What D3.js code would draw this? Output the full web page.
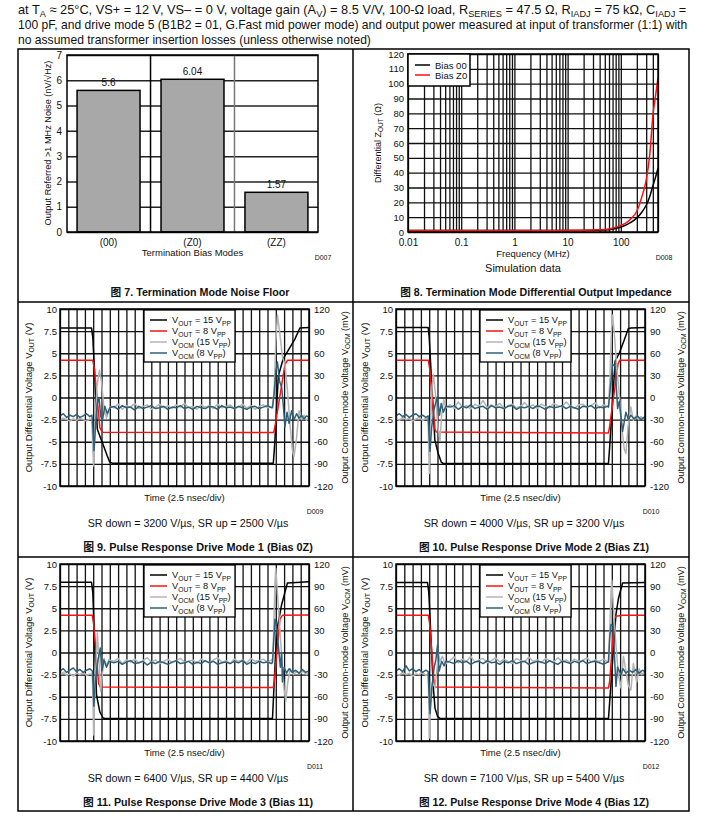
<!DOCTYPE html>
<html>
<head>
<meta charset="utf-8">
<script src="https://cdn.jsdelivr.net/npm/d3@7"></script>
<style>
body { margin: 0; background: #fff; }
text { font-family: "Liberation Sans", Arial, "Noto Sans CJK SC", sans-serif; fill: #111; }
</style>
</head>
<body>
<script>
// ---------- data ----------
var headerLine1 = ["at T", {sub: "A"}, " ≈ 25°C, VS+ = 12 V, VS– = 0 V, voltage gain (A", {sub: "V"}, ") = 8.5 V/V, 100-Ω load, R", {sub: "SERIES"}, " = 47.5 Ω, R", {sub: "IADJ"}, " = 75 kΩ, C", {sub: "IADJ"}, " ="];
var headerLine2 = ["100 pF, and drive mode 5 (B1B2 = 01, G.Fast mid power mode) and output power measured at input of transformer (1:1) with"];
var headerLine3 = ["no assumed transformer insertion losses (unless otherwise noted)"];

// fig 7
var noiseModes = ["(00)", "(Z0)", "(ZZ)"];
var noiseValues = [5.6, 6.04, 1.57];
var noiseTicks = [0, 1, 2, 3, 4, 5, 6, 7];

// fig 8
var zFreq   = [0.01, 1, 10, 30, 50, 70, 100, 130, 160, 200, 250, 300, 350, 400, 450, 500];
var zBias00 = [1, 1, 1.05, 1.2, 1.4, 1.9, 3.4, 5, 6.8, 9.5, 13.5, 18, 24, 31, 37, 43];
var zBiasZ0 = [1, 1, 1.1, 1.4, 1.7, 2.6, 4.5, 6.5, 9.5, 14, 24, 35, 52, 78, 92, 104];
var zTicksY = [0, 10, 20, 30, 40, 50, 60, 70, 80, 90, 100, 110, 120];
var zTicksX = [0.01, 0.1, 1, 10, 100];
var zDecades = [0.01, 0.1, 1, 10, 100];
var zMults = [1, 2, 3, 4, 5, 6, 7, 8, 9];

// pulse plots: time in divisions (2.5 ns/div), VOUT in V, VOCM in mV
var voltTicks = [-10, -7.5, -5, -2.5, 0, 2.5, 5, 7.5, 10];
var mvTicks = [-120, -90, -60, -30, 0, 30, 60, 90, 120];
var midTimes = [6.5,7,7.5,8,8.5,9,9.5,10,10.5,11,11.5,12,12.5,13,13.5,14,14.5,15,15.5,16,16.5,17,17.5,18,18.5,19,19.5,20,20.5,21,21.5,22,22.5,23,23.5,24,24.5,25,25.5];

// fig 9 (Bias 0Z)
var p9Out15 = [[0,7.85],[3.8,7.85],[3.95,6.8],[4.5,-3.6],[4.9,-4.6],[5.3,-5.6],[5.7,-6.6],[6.0,-7.3],[6.3,-7.42],[25.7,-7.42],[25.85,-5.5],[26.3,2.4],[26.9,4.4],[27.6,5.5],[28.3,6.6],[28.9,7.85],[30,7.9]];
var p9Out8 = [[0,4.2],[3.95,4.2],[4.15,3.2],[4.8,-3.4],[5.1,-3.92],[25.75,-3.95],[25.95,-3.0],[27.1,3.7],[27.4,4.2],[30,4.22]];
var p9GrayFall = [[0,-31],[0.4,-28],[0.8,-30],[1.2,-32],[1.6,-29],[2.0,-31],[2.4,-28],[2.8,-30],[3.2,-32],[3.6,-29],[3.85,-30],[3.95,-70],[4.05,-93],[4.2,-45],[4.45,15],[4.75,37],[5.0,22],[5.3,-15],[5.6,-28],[5.9,-16],[6.2,-12]];
var p9GrayMid = [-14,-9,-16,-11,-13,-8,-15,-12,-10,-16,-13,-9,-14,-11,-15,-10,-13,-8,-14,-12,-16,-10,-13,-11,-15,-9,-14,-12,-10,-15,-13,-9,-14,-11,-16,-12,-10,-14,-12];
var p9GrayRise = [[25.6,-12],[25.8,10],[26.0,75],[26.2,112],[26.5,85],[26.8,55],[27.1,45],[27.4,10],[27.7,-35],[28.0,-72],[28.2,-80],[28.5,-55],[28.8,-18],[29.1,-30],[29.4,-24],[29.7,-31],[30,-27]];
var p9BlueFall = [[0,-25],[0.4,-22],[0.8,-27],[1.2,-24],[1.6,-26],[2.0,-23],[2.4,-27],[2.8,-25],[3.2,-22],[3.6,-26],[3.85,-24],[3.95,-40],[4.1,-72],[4.3,-35],[4.5,-8],[4.7,0],[4.9,-25],[5.1,-32],[5.4,-12],[5.7,-22],[6.0,-14]];
var p9BlueMid = [-12,-16,-11,-14,-13,-17,-12,-15,-13,-11,-15,-14,-12,-16,-13,-14,-11,-15,-13,-16,-12,-14,-15,-12,-13,-16,-11,-14,-13,-15,-12,-14,-16,-13,-12,-15,-13,-11,-14];
var p9BlueRise = [[25.6,-14],[25.8,5],[26.0,35],[26.2,48],[26.45,22],[26.7,14],[26.9,-10],[27.1,-40],[27.35,-20],[27.6,-35],[27.9,-18],[28.2,-30],[28.5,-22],[28.8,-28],[29.1,-24],[29.4,-29],[29.7,-25],[30,-27]];

// fig 10 (Bias Z1)
var p10Out15 = [[0,7.9],[3.88,7.9],[4.0,6.8],[4.68,-4.8],[5.08,-6.3],[5.45,-7.3],[5.65,-7.45],[25.6,-7.45],[25.75,-5.5],[26.4,4.1],[26.9,5.0],[27.5,6.5],[28.0,7.8],[28.3,7.85],[30,7.9]];
var p10Out8 = [[0,4.2],[3.9,4.2],[4.05,3.3],[4.7,-3.6],[4.85,-3.9],[25.6,-4.0],[25.75,-3.2],[26.75,3.8],[26.95,4.2],[30,4.22]];
var p10GrayFall = [[0,-28],[0.4,-31],[0.8,-27],[1.2,-30],[1.6,-28],[2.0,-32],[2.4,-29],[2.8,-27],[3.2,-31],[3.6,-28],[3.88,-30],[3.95,-75],[4.02,-103],[4.15,-40],[4.35,15],[4.5,31],[4.75,5],[5.05,-40],[5.3,-58],[5.5,-25],[5.75,-3],[6.0,-14]];
var p10GrayMid = [-10,-15,-6,-13,-11,-16,-9,-12,-4,-14,-10,-13,-8,-15,-11,-9,-14,-12,-7,-13,-10,-15,-9,-12,-14,-8,-11,-13,-6,-12,-15,-10,-9,-13,-11,-7,-14,-10,-12];
var p10GrayRise = [[25.6,-12],[25.75,20],[25.95,90],[26.1,112],[26.35,80],[26.6,40],[26.9,5],[27.2,-40],[27.5,-70],[27.7,-76],[27.95,-40],[28.3,-13],[28.6,-31],[28.9,-25],[29.2,-30],[29.5,-26],[29.8,-29],[30,-27]];
var p10BlueFall = [[0,-25],[0.4,-22],[0.8,-26],[1.2,-23],[1.6,-27],[2.0,-24],[2.4,-22],[2.8,-26],[3.2,-24],[3.6,-27],[3.88,-25],[3.98,-50],[4.1,-73],[4.3,-40],[4.6,-15],[5.0,1],[5.25,-24],[5.45,-8],[5.7,-20],[6.0,-12]];
var p10BlueMid = [-13,-11,-16,-12,-14,-10,-15,-13,-12,-16,-11,-14,-13,-15,-12,-11,-16,-13,-14,-12,-15,-11,-13,-16,-12,-14,-13,-11,-15,-12,-14,-16,-12,-13,-11,-15,-13,-14,-12];
var p10BlueRise = [[25.6,-13],[25.8,10],[26.1,45],[26.4,42],[26.7,-15],[26.9,-5],[27.3,-46],[27.7,-20],[28.0,-30],[28.3,-24],[28.7,-29],[29.1,-25],[29.5,-30],[30,-26]];

// fig 11 (Bias 11)
var p11Out15 = [[0,7.95],[3.8,7.95],[3.95,6.8],[4.4,-4.8],[4.8,-6.7],[5.2,-7.4],[5.4,-7.45],[25.6,-7.45],[25.7,-5.5],[26.1,2.4],[26.7,5.4],[27.4,7.85],[30,8.0]];
var p11Out8 = [[0,4.2],[3.9,4.2],[4.05,3.2],[4.65,-3.5],[4.85,-3.9],[25.7,-3.95],[25.85,-3.0],[26.5,3.8],[26.8,4.2],[30,4.25]];
var p11GrayFall = [[0,-30],[0.4,-27],[0.8,-31],[1.2,-29],[1.6,-32],[2.0,-28],[2.4,-30],[2.8,-27],[3.2,-31],[3.6,-29],[3.9,-30],[4.0,-80],[4.05,-112],[4.2,-50],[4.5,26],[4.7,-10],[4.9,-53],[5.1,-30],[5.3,-8],[5.6,-18],[5.9,-10]];
var p11GrayMid = [-12,-8,-15,-10,-13,-9,-14,-11,-7,-13,-10,-15,-12,-9,-14,-11,-8,-13,-12,-10,-15,-9,-12,-14,-10,-7,-13,-11,-15,-9,-12,-10,-14,-8,-12,-11,-9,-13,-10];
var p11GrayRise = [[25.6,-11],[25.75,30],[25.9,95],[26.0,114],[26.2,80],[26.5,30],[26.8,-20],[27.0,-50],[27.2,-66],[27.45,-40],[27.75,-22],[28.1,-30],[28.5,-26],[28.9,-29],[29.3,-25],[29.7,-30],[30,-27]];
var p11BlueFall = [[0,-25],[0.4,-22],[0.8,-27],[1.2,-24],[1.6,-21],[2.0,-26],[2.4,-23],[2.8,-27],[3.2,-24],[3.6,-22],[3.9,-25],[4.0,-45],[4.08,-73],[4.25,-40],[4.5,-15],[4.85,6],[5.05,-25],[5.3,-10],[5.6,-20],[5.9,-12]];
var p11BlueMid = [-14,-12,-16,-13,-11,-15,-14,-12,-17,-13,-15,-12,-14,-16,-13,-11,-15,-14,-12,-16,-13,-15,-11,-14,-12,-16,-14,-13,-15,-12,-14,-11,-16,-13,-15,-12,-14,-13,-15];
var p11BlueRise = [[25.6,-13],[25.75,15],[25.9,45],[26.05,40],[26.3,10],[26.55,-20],[26.7,0],[26.8,-40],[27.0,-20],[27.3,-28],[27.6,-22],[28.0,-27],[28.4,-24],[28.8,-28],[29.2,-23],[29.6,-27],[30,-25]];

// fig 12 (Bias 1Z)
var p12Out15 = [[0,7.9],[3.8,7.9],[3.95,6.8],[4.5,-4.0],[4.7,-6.3],[5.0,-7.2],[5.3,-7.45],[25.6,-7.45],[25.75,-5.5],[26.5,4.3],[26.8,6.1],[27.3,7.85],[30,7.9]];
var p12Out8 = [[0,4.2],[3.9,4.2],[4.05,3.3],[4.6,-3.6],[4.75,-3.9],[25.6,-4.0],[25.75,-3.2],[26.3,3.8],[26.5,4.1],[27.3,4.2],[30,4.22]];
var p12GrayFall = [[0,-29],[0.4,-31],[0.8,-27],[1.2,-30],[1.6,-28],[2.0,-32],[2.4,-29],[2.8,-30],[3.2,-27],[3.6,-31],[3.88,-29],[3.97,-80],[4.0,-116],[4.15,-75],[4.4,-40],[4.7,-48],[4.95,-20],[5.1,0],[5.3,-12],[5.6,-5],[5.9,-16]];
var p12GrayMid = [-11,-6,-14,-9,-12,-5,-13,-10,-8,-14,-11,-7,-13,-9,-12,-15,-8,-11,-13,-6,-12,-10,-14,-8,-11,-13,-7,-12,-10,-14,-9,-12,-11,-7,-13,-10,-12,-9,-13];
var p12GrayRise = [[25.6,-12],[25.75,30],[25.9,80],[26.0,98],[26.2,60],[26.5,10],[26.8,-30],[27.1,-48],[27.4,-5],[27.7,-25],[28.0,-45],[28.3,-51],[28.6,-15],[29.0,-40],[29.3,-22],[29.6,-30],[30,-26]];
var p12BlueFall = [[0,-25],[0.4,-22],[0.8,-26],[1.2,-18],[1.6,-25],[2.0,-22],[2.4,-26],[2.8,-23],[3.2,-27],[3.6,-24],[3.88,-26],[3.98,-55],[4.1,-83],[4.3,-50],[4.6,-20],[4.8,-10],[5.0,10],[5.2,-25],[5.5,-12],[5.8,-18],[6.0,-12]];
var p12BlueMid = [-13,-15,-11,-14,-12,-16,-13,-12,-15,-11,-14,-13,-16,-12,-14,-11,-15,-13,-12,-16,-14,-12,-13,-15,-11,-14,-16,-12,-13,-15,-12,-14,-11,-15,-13,-12,-14,-16,-13];
var p12BlueRise = [[25.6,-13],[25.75,20],[25.9,38],[26.15,36],[26.5,-46],[26.7,-20],[27.1,-30],[27.35,-22],[27.7,-28],[28.1,-24],[28.5,-27],[28.9,-23],[29.3,-28],[29.7,-24],[30,-26]];

var pulseLegend = [
  ["V", {sub: "OUT"}, " = 15 V", {sub: "PP"}],
  ["V", {sub: "OUT"}, " = 8 V", {sub: "PP"}],
  ["V", {sub: "OCM"}, " (15 V", {sub: "PP"}, ")"],
  ["V", {sub: "OCM"}, " (8 V", {sub: "PP"}, ")"]
];
var pulseColors = ["#000000", "#ff1010", "#b4b4b4", "#2f6078"];

// ---------- helpers ----------
var svg = d3.select("body").append("svg").attr("width", 725).attr("height", 826);

function rich(t, parts) {
  var shifted = false;
  parts.forEach(function (p) {
    var isSub = typeof p !== "string";
    var ts = t.append("tspan").text(isSub ? p.sub : p);
    if (isSub) {
      ts.attr("font-size", "0.72em");
      if (!shifted) ts.attr("dy", "0.35em");
      shifted = true;
    } else if (shifted) {
      ts.attr("dy", "-0.25em");
      shifted = false;
    }
  });
  return t;
}

function txt(parent, x, y, parts, size, anchor) {
  var t = parent.append("text").attr("x", x).attr("y", y)
    .attr("font-size", size).attr("text-anchor", anchor || "start");
  return rich(t, typeof parts === "string" ? [parts] : parts);
}

function fit(t, width) {
  var w = t.node().getComputedTextLength();
  t.attr("font-size", parseFloat(t.attr("font-size")) * width / w);
  return t;
}

function vtxt(parent, x, y, parts, size, width) {
  var t = txt(parent, x, y, parts, size, "middle").attr("transform", "rotate(-90," + x + "," + y + ")");
  if (width) fit(t, width);
  return t;
}

function styleAxis(g, size) {
  g.select(".domain").remove();
  g.attr("font-size", size);
  g.selectAll("text").attr("fill", "#111");
}

function plain(d) { return String(d); }

function joinTrace(fall, mid, rise) {
  var pts = fall.slice();
  midTimes.forEach(function (t, i) { if (i < mid.length) pts.push([t, mid[i]]); });
  return pts.concat(rise);
}

// ---------- header + table ----------
fit(txt(svg, 18, 14, headerLine1, 12), 669);
var l2 = fit(txt(svg, 18, 29, headerLine2, 12), 670);
txt(svg, 18, 44, headerLine3, parseFloat(l2.attr("font-size")));

var table = svg.append("g").attr("stroke", "#000").attr("stroke-width", 1.5).attr("fill", "none");
table.append("rect").attr("x", 18).attr("y", 49).attr("width", 671).attr("height", 762);
table.append("line").attr("x1", 353).attr("x2", 353).attr("y1", 49).attr("y2", 811);
table.append("line").attr("x1", 18).attr("x2", 689).attr("y1", 302).attr("y2", 302);
table.append("line").attr("x1", 18).attr("x2", 689).attr("y1", 557).attr("y2", 557);

// ---------- fig 7: noise floor bars ----------
(function () {
  var L = 67, T = 55, w = 251, h = 177;
  var g = svg.append("g").attr("transform", "translate(" + L + "," + T + ")");
  var x = d3.scaleBand().domain(noiseModes).range([0, w]).paddingInner(0.25).paddingOuter(0.12);
  var y = d3.scaleLinear().domain([0, 7]).range([h, 0]);

  g.append("g").call(d3.axisLeft(y).tickValues(noiseTicks).tickSize(-w).tickFormat(""))
    .call(function (a) { a.select(".domain").remove(); })
    .selectAll("line").attr("stroke", "#222").attr("stroke-width", 1.5);

  var gridCols = ["#000", "#777"];
  noiseModes.slice(1).forEach(function (m, i) {
    var gx = x(m) - x.step() * x.paddingInner() / 2;
    g.append("line").attr("x1", gx).attr("x2", gx).attr("y1", 0).attr("y2", h)
      .attr("stroke", gridCols[i]).attr("stroke-width", 1.5);
  });

  g.selectAll(".bar").data(noiseValues).enter().append("rect")
    .attr("x", function (d, i) { return x(noiseModes[i]); })
    .attr("y", function (d) { return y(d); })
    .attr("width", x.bandwidth())
    .attr("height", function (d) { return h - y(d); })
    .attr("fill", "#a8a8a8").attr("stroke", "#000").attr("stroke-width", 1.5);

  g.selectAll(".val").data(noiseValues).enter().append("text")
    .attr("x", function (d, i) { return x(noiseModes[i]) + x.bandwidth() / 2; })
    .attr("y", function (d) { return y(d) - 4; })
    .attr("text-anchor", "middle").attr("font-size", 10)
    .text(function (d) { return d; });

  g.append("rect").attr("width", w).attr("height", h).attr("fill", "none")
    .attr("stroke", "#000").attr("stroke-width", 1.5);

  g.append("g").call(d3.axisLeft(y).tickValues(noiseTicks).tickSize(0).tickPadding(5).tickFormat(plain))
    .call(styleAxis, 10);
  g.append("g").attr("transform", "translate(0," + h + ")")
    .call(d3.axisBottom(x).tickSize(0).tickPadding(7)).call(styleAxis, 10);

  txt(svg, L + w / 2, 256, "Termination Bias Modes", 9.5, "middle");
  vtxt(svg, 50.5, 143, "Output Referred >1 MHz Noise (nV/√Hz)", 9.5, 165);
  txt(svg, L + w + 5, 260, "D007", 7, "middle").attr("fill", "#bdbdbd");
  fit(txt(svg, 200, 296, "图 7. Termination Mode Noise Floor", 11, "middle").attr("font-weight", "bold"), 179);
})();

// ---------- fig 8: output impedance ----------
(function () {
  var L = 408, T = 54, w = 250, h = 178;
  var g = svg.append("g").attr("transform", "translate(" + L + "," + T + ")");
  var x = d3.scaleLog().domain([0.01, 500]).range([0, w]);
  var y = d3.scaleLinear().domain([0, 120]).range([h, 0]);

  var gridX = [];
  zDecades.forEach(function (dec) { zMults.forEach(function (m) { if (dec * m <= 500) gridX.push(dec * m); }); });

  g.append("g").attr("transform", "translate(0," + h + ")")
    .call(d3.axisBottom(x).tickValues(gridX).tickSize(-h).tickFormat(""))
    .call(function (a) { a.select(".domain").remove(); })
    .selectAll("line").attr("stroke", "#111").attr("stroke-width", 1.3);
  g.append("g").call(d3.axisLeft(y).tickValues(zTicksY).tickSize(-w).tickFormat(""))
    .call(function (a) { a.select(".domain").remove(); })
    .selectAll("line").attr("stroke", "#111").attr("stroke-width", 1.3);

  var line = d3.line().x(function (d) { return x(d[0]); }).y(function (d) { return y(d[1]); }).curve(d3.curveMonotoneX);
  g.append("path").datum(d3.zip(zFreq, zBias00)).attr("d", line)
    .attr("fill", "none").attr("stroke", "#000").attr("stroke-width", 1.5);
  g.append("path").datum(d3.zip(zFreq, zBiasZ0)).attr("d", line)
    .attr("fill", "none").attr("stroke", "#ff1010").attr("stroke-width", 1.5);

  g.append("rect").attr("width", w).attr("height", h).attr("fill", "none")
    .attr("stroke", "#000").attr("stroke-width", 1.5);

  g.append("g").call(d3.axisLeft(y).tickValues(zTicksY).tickSize(0).tickPadding(4).tickFormat(plain)).call(styleAxis, 9.5);
  g.append("g").attr("transform", "translate(0," + h + ")")
    .call(d3.axisBottom(x).tickValues(zTicksX).tickSize(0).tickPadding(7).tickFormat(plain))
    .call(styleAxis, 10);

  // legend
  var lg = g.append("g");
  lg.append("rect").attr("width", 62).attr("height", 32).attr("fill", "#fff")
    .attr("stroke", "#000").attr("stroke-width", 1.5);
  ["Bias 00", "Bias Z0"].forEach(function (s, i) {
    lg.append("line").attr("x1", 7).attr("x2", 22).attr("y1", 11 + 10 * i).attr("y2", 11 + 10 * i)
      .attr("stroke", i ? "#ff1010" : "#000").attr("stroke-width", 1.5);
    txt(lg, 27, 14.5 + 10 * i, s, 9.5);
  });

  txt(svg, L + w / 2, 257, "Frequency (MHz)", 9.5, "middle");
  txt(svg, 523, 272, "Simulation data", 11, "middle");
  vtxt(svg, 380.5, 143, ["Differential Z", {sub: "OUT"}, " (Ω)"], 9.5, 80);
  txt(svg, L + w + 6, 260, "D008", 7, "middle").attr("fill", "#bdbdbd");
  fit(txt(svg, 536, 296, "图 8. Termination Mode Differential Output Impedance", 11, "middle").attr("font-weight", "bold"), 272);
})();

// ---------- figs 9-12: pulse response ----------
function pulsePanel(L, T, traces, code, sr, title) {
  var w = 249, h = 177;
  var g = svg.append("g").attr("transform", "translate(" + L + "," + T + ")");
  var x = d3.scaleLinear().domain([0, 30]).range([0, w]);
  var y = d3.scaleLinear().domain([-10, 10]).range([h, 0]);
  var y2 = d3.scaleLinear().domain([-120, 120]).range([h, 0]);

  g.append("g").attr("transform", "translate(0," + h + ")")
    .call(d3.axisBottom(x).ticks(30).tickSize(-h).tickFormat(""))
    .call(function (a) { a.select(".domain").remove(); })
    .selectAll("line").attr("stroke", "#111").attr("stroke-width", 1.3);
  g.append("g").call(d3.axisLeft(y).tickValues(voltTicks).tickSize(-w).tickFormat(""))
    .call(function (a) { a.select(".domain").remove(); })
    .selectAll("line").attr("stroke", "#111").attr("stroke-width", 1.3);

  var lineV = d3.line().x(function (d) { return x(d[0]); }).y(function (d) { return y(d[1]); });
  var lineM = d3.line().x(function (d) { return x(d[0]); }).y(function (d) { return y2(d[1]); });
  traces.forEach(function (tr, i) {
    g.append("path").datum(tr).attr("d", i < 2 ? lineV : lineM)
      .attr("fill", "none").attr("stroke", pulseColors[i]).attr("stroke-width", 1.5)
      .attr("stroke-linejoin", "round");
  });

  g.append("rect").attr("width", w).attr("height", h).attr("fill", "none")
    .attr("stroke", "#000").attr("stroke-width", 1.5);

  g.append("g").call(d3.axisLeft(y).tickValues(voltTicks).tickSize(0).tickPadding(3).tickFormat(plain)).call(styleAxis, 9.5);
  g.append("g").attr("transform", "translate(" + w + ",0)")
    .call(d3.axisRight(y2).tickValues(mvTicks).tickSize(0).tickPadding(5).tickFormat(plain)).call(styleAxis, 9.5);

  // legend
  var lg = g.append("g").attr("transform", "translate(84,1)");
  lg.append("rect").attr("width", 91).attr("height", 52).attr("fill", "#fff")
    .attr("stroke", "#000").attr("stroke-width", 1.3);
  var legSize = 10;
  pulseLegend.forEach(function (parts, i) {
    var ly = 10 + 11 * i;
    lg.append("line").attr("x1", 6).attr("x2", 23).attr("y1", ly).attr("y2", ly)
      .attr("stroke", pulseColors[i]).attr("stroke-width", 1.5);
    var t = txt(lg, 28, ly + 3.2, parts, legSize);
    if (i === 0) { fit(t, 59); legSize = parseFloat(t.attr("font-size")); }
  });

  vtxt(svg, L - 28.5, T + h / 2, ["Output Differential Voltage V", {sub: "OUT"}, " (V)"], 9.5, 150);
  vtxt(svg, L + w + 38.5, T + h / 2, ["Output Common-mode Voltage V", {sub: "OCM"}, " (mV)"], 9.5, 173);
  txt(svg, L + w / 2, T + h + 15, "Time (2.5 nsec/div)", 9.5, "middle");
  txt(svg, L + w + 6, T + h + 28, code, 7, "middle").attr("fill", "#bdbdbd");
  fit(txt(svg, L + 128, T + h + 41, sr, 11, "middle"), 201);
  fit(txt(svg, L + 138, T + h + 65, title, 11, "middle").attr("font-weight", "bold"), 230);
}

pulsePanel(60, 309, [p9Out15, p9Out8, joinTrace(p9GrayFall, p9GrayMid, p9GrayRise), joinTrace(p9BlueFall, p9BlueMid, p9BlueRise)],
  "D009", "SR down = 3200 V/µs, SR up = 2500 V/µs", "图 9. Pulse Response Drive Mode 1 (Bias 0Z)");
pulsePanel(396, 309, [p10Out15, p10Out8, joinTrace(p10GrayFall, p10GrayMid, p10GrayRise), joinTrace(p10BlueFall, p10BlueMid, p10BlueRise)],
  "D010", "SR down = 4000 V/µs, SR up = 3200 V/µs", "图 10. Pulse Response Drive Mode 2 (Bias Z1)");
pulsePanel(60, 564, [p11Out15, p11Out8, joinTrace(p11GrayFall, p11GrayMid, p11GrayRise), joinTrace(p11BlueFall, p11BlueMid, p11BlueRise)],
  "D011", "SR down = 6400 V/µs, SR up = 4400 V/µs", "图 11. Pulse Response Drive Mode 3 (Bias 11)");
pulsePanel(396, 564, [p12Out15, p12Out8, joinTrace(p12GrayFall, p12GrayMid, p12GrayRise), joinTrace(p12BlueFall, p12BlueMid, p12BlueRise)],
  "D012", "SR down = 7100 V/µs, SR up = 5400 V/µs", "图 12. Pulse Response Drive Mode 4 (Bias 1Z)");
</script>
</body>
</html>
